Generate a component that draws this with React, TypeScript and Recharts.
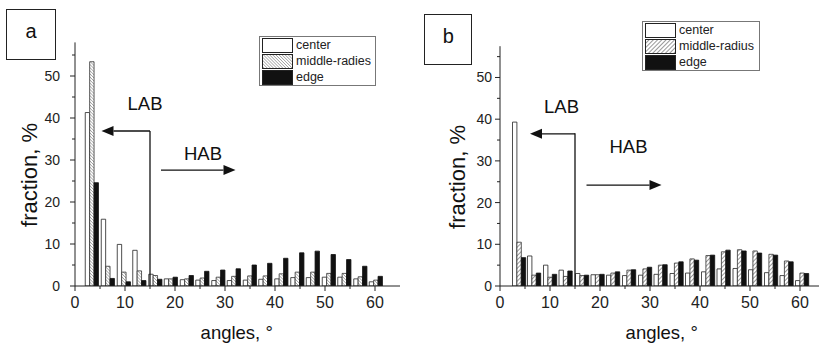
import React from 'react';
import { BarChart, Bar, XAxis, YAxis, ReferenceLine, ReferenceDot, Legend } from 'recharts';

const FONT = '"Liberation Sans", Arial, Helvetica, sans-serif';

// ---- Panel a data ----
const anglesA = [3.4, 6.6, 9.8, 12.9, 16.1, 19.2, 22.4, 25.5, 28.7, 31.8, 35.0, 38.1, 41.3, 44.5, 47.6, 50.8, 53.9, 57.1, 60.2];
const centerA = [41.3, 15.9, 9.9, 8.5, 2.8, 1.7, 1.5, 1.4, 1.3, 1.3, 1.4, 1.6, 1.7, 2.0, 2.0, 2.1, 2.1, 1.7, 1.0];
const middleA = [53.4, 4.7, 3.3, 3.6, 2.5, 1.7, 1.7, 1.9, 2.1, 2.3, 2.4, 2.4, 2.9, 3.3, 3.3, 3.0, 3.0, 2.2, 1.4];
const edgeA = [24.6, 1.8, 1.0, 1.3, 1.6, 2.1, 2.5, 3.5, 3.8, 4.1, 5.0, 5.4, 6.6, 7.9, 8.3, 7.5, 6.3, 4.7, 2.3];

// ---- Panel b data ----
const anglesB = [3.8, 6.8, 10.0, 13.1, 16.4, 19.5, 22.6, 25.8, 29.0, 32.1, 35.3, 38.4, 41.6, 44.7, 47.9, 51.0, 54.2, 57.3, 60.4];
const centerB = [39.3, 7.2, 5.0, 3.8, 3.0, 2.7, 2.6, 2.5, 2.6, 2.8, 3.0, 3.1, 3.4, 4.1, 4.2, 3.9, 3.2, 2.5, 1.3];
const middleB = [10.5, 2.6, 2.1, 2.3, 2.5, 2.7, 3.1, 3.8, 4.1, 5.0, 5.5, 6.5, 7.3, 8.2, 8.7, 8.4, 7.6, 6.0, 3.1];
const edgeB = [6.8, 3.1, 2.8, 3.6, 2.6, 2.8, 3.4, 3.9, 4.5, 5.1, 5.8, 6.2, 7.4, 8.6, 8.4, 7.9, 7.4, 5.8, 3.0];

// ---- ticks & labels ----
const xTicks = [0, 5, 10, 15, 20, 25, 30, 35, 40, 45, 50, 55, 60];
const yTicks = [0, 5, 10, 15, 20, 25, 30, 35, 40, 45, 50, 55];
const namesA = ['center', 'middle-radies', 'edge'];
const namesB = ['center', 'middle-radius', 'edge'];
const xTitle = 'angles, \u00B0';
const yTitle = 'fraction, %';

const buildRows = (angles: number[], c: number[], m: number[], e: number[]) =>
  angles.map((x, i) => ({ x, center: c[i], middle: m[i], edge: e[i] }));

const rowsA = buildRows(anglesA, centerA, middleA, edgeA);
const rowsB = buildRows(anglesB, centerB, middleB, edgeB);

const XTick = (props: any) => {
  const { x, y, payload } = props;
  const v = payload.value;
  const major = v % 10 === 0;
  return (
    <g>
      <line x1={x} x2={x} y1={y} y2={y + (major ? 5 : 3)} stroke="#222" strokeWidth={1} />
      {major && (
        <text x={x} y={y + 22} textAnchor="middle" fontSize={16} fontFamily={FONT} fill="#222">
          {v}
        </text>
      )}
    </g>
  );
};

const makeYTick = (gap: number) => (props: any) => {
  const { x, y, payload } = props;
  const v = payload.value;
  const major = v % 10 === 0;
  return (
    <g>
      <line x1={x} x2={x - (major ? 5 : 3)} y1={y} y2={y} stroke="#222" strokeWidth={1} />
      {major && (
        <text x={x - gap} y={y + 5} textAnchor="end" fontSize={14} fontFamily={FONT} fill="#222">
          {v}
        </text>
      )}
    </g>
  );
};

const arrowShape = (props: any) => {
  const { x1, y1, x2, y2 } = props;
  const dx = x2 - x1;
  const dy = y2 - y1;
  const len = Math.hypot(dx, dy) || 1;
  const ux = dx / len;
  const uy = dy / len;
  const hl = 12;
  const hw = 5;
  const bx = x2 - ux * hl;
  const by = y2 - uy * hl;
  return (
    <g>
      <line x1={x1} y1={y1} x2={bx} y2={by} stroke="#111" strokeWidth={1.3} />
      <polygon
        points={`${x2},${y2} ${bx - uy * hw},${by + ux * hw} ${bx + uy * hw},${by - ux * hw}`}
        fill="#111"
      />
    </g>
  );
};

const LegendBox = ({ names, hatch, width }: { names: string[]; hatch: string; width: number }) => {
  const fills = ['#ffffff', `url(#${hatch})`, '#111111'];
  return (
    <div
      style={{
        width,
        boxSizing: 'border-box',
        border: '1px solid #777',
        background: '#fff',
        padding: '0 1px',
        fontFamily: FONT,
        fontSize: 12.5,
        color: '#222',
      }}
    >
      {names.map((n, i) => (
        <div key={n} style={{ display: 'flex', alignItems: 'center', height: 16 }}>
          <svg width={31} height={15} style={{ display: 'block', marginLeft: 1 }}>
            <rect x={0.5} y={0.5} width={30} height={14} fill={fills[i]} stroke="#222" strokeWidth={1} />
          </svg>
          <span style={{ marginLeft: 3, lineHeight: '16px', whiteSpace: 'nowrap' }}>{n}</span>
        </div>
      ))}
    </div>
  );
};

type PanelProps = {
  rows: any[];
  left: number;
  marginLeft: number;
  marginTop: number;
  marginRight: number;
  yMax: number;
  hatch: string;
  names: string[];
  legendLeft: number;
  legendTop: number;
  legendWidth: number;
  vTop: number;
  lab: [number, number, number];
  hab: [number, number, number];
  labPos: [number, number];
  habPos: [number, number];
  yGap: number;
};

function Panel(p: PanelProps) {
  const YTick = makeYTick(p.yGap);
  return (
    <div style={{ position: 'absolute', left: p.left, top: 0 }}>
      <BarChart
        width={410}
        height={345}
        data={p.rows}
        margin={{ top: p.marginTop, right: p.marginRight, bottom: 29, left: p.marginLeft }}
        barGap={0}
        barCategoryGap={0}
      >
        <XAxis
          type="number"
          dataKey="x"
          domain={[0, 65]}
          ticks={xTicks}
          interval={0}
          tickSize={0}
          tickMargin={0}
          tickLine={false}
          axisLine={{ stroke: '#222', strokeWidth: 1 }}
          tick={XTick}
          height={30}
          allowDataOverflow
        />
        <YAxis
          type="number"
          domain={[0, p.yMax]}
          ticks={yTicks}
          interval={0}
          tickSize={0}
          tickMargin={0}
          tickLine={false}
          axisLine={{ stroke: '#222', strokeWidth: 1 }}
          tick={YTick}
          width={40}
          allowDataOverflow
        />
        <Bar dataKey="center" barSize={4.4} fill="#ffffff" stroke="#222" strokeWidth={0.8} isAnimationActive={false} />
        <Bar dataKey="middle" barSize={4.4} fill={`url(#${p.hatch})`} stroke="#333" strokeWidth={0.8} isAnimationActive={false} />
        <Bar dataKey="edge" barSize={4.4} fill="#111111" stroke="#111" strokeWidth={0.8} isAnimationActive={false} />
        <ReferenceLine segment={[{ x: 15, y: 0 }, { x: 15, y: p.vTop }]} stroke="#111" strokeWidth={1.3} />
        <ReferenceLine segment={[{ x: p.lab[0], y: p.lab[2] }, { x: p.lab[1], y: p.lab[2] }]} shape={arrowShape} />
        <ReferenceLine segment={[{ x: p.hab[0], y: p.hab[2] }, { x: p.hab[1], y: p.hab[2] }]} shape={arrowShape} />
        <ReferenceDot
          x={p.labPos[0]}
          y={p.labPos[1]}
          r={1}
          fill="none"
          stroke="none"
          label={{ value: 'LAB', position: 'center', fontSize: 18.5, fontFamily: FONT, fill: '#111' }}
        />
        <ReferenceDot
          x={p.habPos[0]}
          y={p.habPos[1]}
          r={1}
          fill="none"
          stroke="none"
          label={{ value: 'HAB', position: 'center', fontSize: 18.5, fontFamily: FONT, fill: '#111' }}
        />
        <Legend
          layout="horizontal"
          verticalAlign="middle"
          align="center"
          wrapperStyle={{ left: p.legendLeft, top: p.legendTop, width: p.legendWidth, height: 50 }}
          content={() => <LegendBox names={p.names} hatch={p.hatch} width={p.legendWidth} />}
        />
      </BarChart>
    </div>
  );
}

export default function App() {
  return (
    <div
      style={{
        position: 'absolute',
        left: 0,
        top: 0,
        width: 819,
        height: 345,
        overflow: 'hidden',
        background: '#fff',
      }}
    >
      <svg width={0} height={0} style={{ position: 'absolute' }}>
        <defs>
          <pattern id="hatchA" width={2.2} height={2.2} patternUnits="userSpaceOnUse" patternTransform="rotate(-45)">
            <rect width={2.2} height={2.2} fill="#fff" />
            <line x1={0} y1={0} x2={0} y2={2.2} stroke="#666" strokeWidth={0.9} />
          </pattern>
          <pattern id="hatchB" width={3} height={3} patternUnits="userSpaceOnUse" patternTransform="rotate(45)">
            <rect width={3} height={3} fill="#fff" />
            <line x1={0} y1={0} x2={0} y2={3} stroke="#333" strokeWidth={1} />
          </pattern>
        </defs>
      </svg>
      <Panel
        rows={rowsA}
        left={0}
        marginLeft={35}
        marginTop={42.4}
        marginRight={10}
        yMax={58}
        hatch="hatchA"
        names={namesA}
        legendLeft={259}
        legendTop={36}
        legendWidth={117}
        vTop={36.9}
        lab={[15, 5.3, 36.9]}
        hab={[17.2, 32.1, 27.6]}
        labPos={[14.0, 43.5]}
        habPos={[25.6, 31.6]}
        yGap={15}
      />
      <Panel
        rows={rowsB}
        left={420}
        marginLeft={40}
        marginTop={46.2}
        marginRight={5}
        yMax={57.5}
        hatch="hatchB"
        names={namesB}
        legendLeft={222}
        legendTop={21}
        legendWidth={118}
        vTop={36.6}
        lab={[15, 6.0, 36.5]}
        hab={[17.3, 32.3, 24.2]}
        labPos={[12.3, 43.0]}
        habPos={[25.7, 33.4]}
        yGap={8}
      />
      <svg width={819} height={345} style={{ position: 'absolute', left: 0, top: 0, pointerEvents: 'none' }}>
        <rect x={6.5} y={9.5} width={49} height={50} fill="none" stroke="#222" strokeWidth={1} />
        <text x={31} y={38.3} textAnchor="middle" fontSize={20} fontFamily={FONT} fill="#111">a</text>
        <rect x={424.5} y={14.5} width={47} height={50} fill="none" stroke="#222" strokeWidth={1} />
        <text x={448.3} y={43.3} textAnchor="middle" fontSize={20} fontFamily={FONT} fill="#111">b</text>
        <text x={236.7} y={339} textAnchor="middle" fontSize={18.5} fontFamily={FONT} fill="#111">{xTitle}</text>
        <text x={661.7} y={339} textAnchor="middle" fontSize={18.5} fontFamily={FONT} fill="#111">{xTitle}</text>
        <text transform="translate(37,175) rotate(-90)" textAnchor="middle" fontSize={22} fontFamily={FONT} fill="#111">{yTitle}</text>
        <text transform="translate(465,177) rotate(-90)" textAnchor="middle" fontSize={22} fontFamily={FONT} fill="#111">{yTitle}</text>
      </svg>
    </div>
  );
}
